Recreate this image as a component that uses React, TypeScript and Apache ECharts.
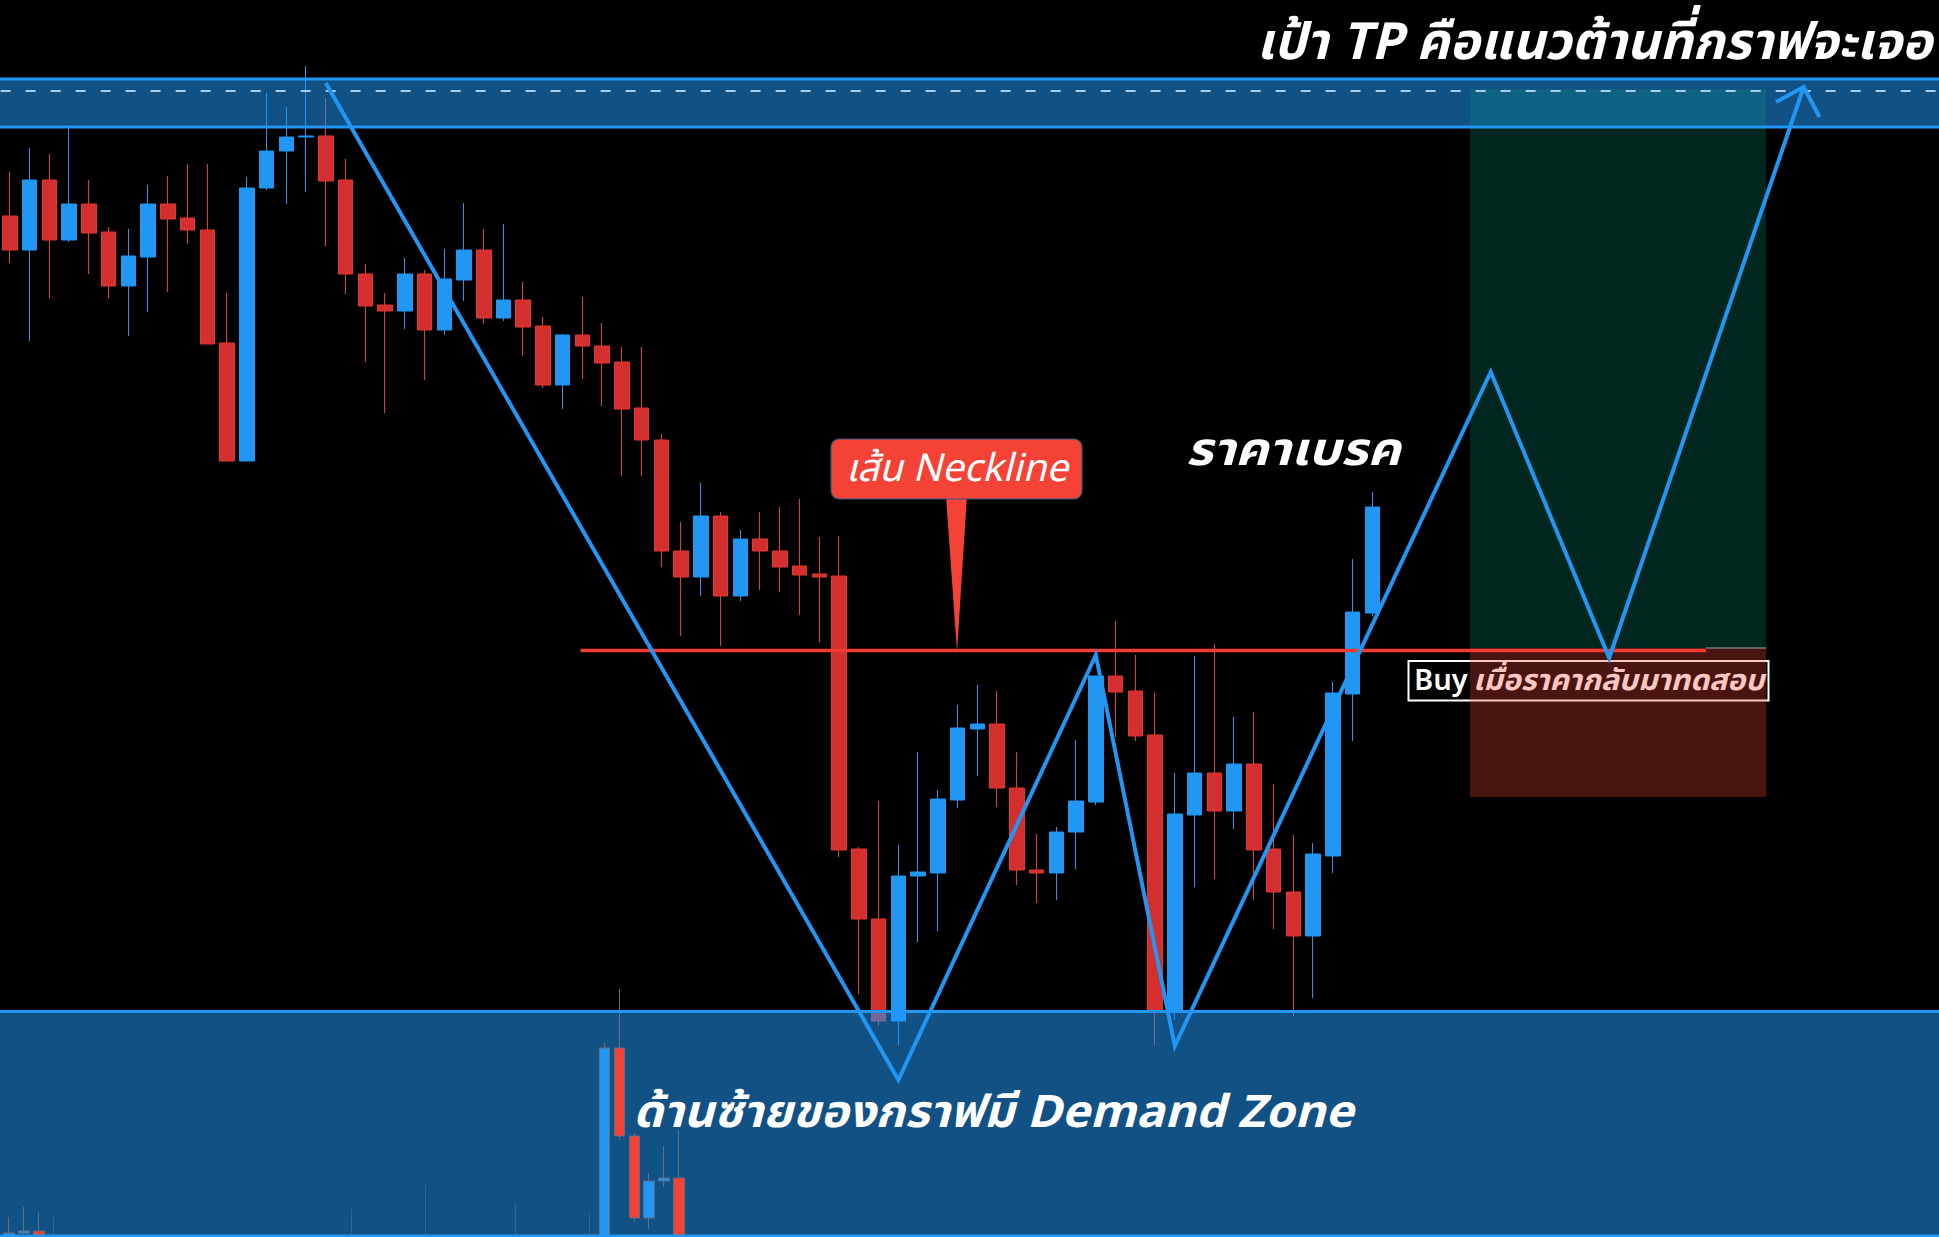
import React, { useEffect, useRef } from "react";
import * as echarts from "echarts";

const CHART_W = 1939;
const CHART_H = 1237;
const FONT = "'Noto Sans Thai', 'Noto Sans Thai UI', Tahoma, Loma, Garuda, 'Noto Sans', 'DejaVu Sans', sans-serif";

// ---------- main chart candles (price units, one entry per bar) ----------
const barCount = 98; // visible bar slots: 70 traded bars + empty future space
const mainOpen = [
  1021, 987, 1057, 997, 1033, 1005, 951, 980, 1033, 1019,
  1007, 894, 776, 1049, 1086, 1100, 1101, 1057, 963, 932,
  926, 963, 907, 957, 987, 919, 937, 911, 852, 902,
  891, 875, 829, 797, 686, 660, 721, 641, 698, 686,
  671, 663, 661, 388, 318, 216, 361, 364, 437, 508,
  513, 449, 367, 364, 405, 435, 561, 546, 502, 225,
  422, 464, 426, 473, 388, 345, 301, 381, 543, 624,
];
const mainClose = [
  987, 1057, 997, 1033, 1004, 951, 981, 1033, 1018, 1007,
  893, 776, 1049, 1086, 1100, 1101, 1056, 963, 931, 926,
  963, 907, 958, 987, 919, 937, 910, 852, 902, 891,
  874, 828, 797, 686, 660, 721, 641, 698, 686, 670,
  662, 660, 387, 318, 216, 361, 365, 438, 509, 513,
  449, 367, 364, 405, 436, 561, 545, 501, 227, 423,
  464, 426, 473, 387, 345, 301, 383, 544, 625, 730,
];
const mainLow = [
  974, 896, 939, 995, 963, 939, 901, 925, 945, 993,
  893, 776, 776, 1047, 1033, 1045, 991, 943, 875, 824,
  908, 857, 902, 936, 913, 916, 881, 849, 828, 858,
  831, 761, 761, 670, 601, 641, 591, 636, 647, 645,
  622, 595, 380, 243, 211, 192, 295, 306, 429, 461,
  430, 352, 334, 337, 368, 432, 500, 496, 192, 217,
  350, 358, 408, 337, 308, 221, 239, 364, 496, 621,
];
const mainHigh = [
  1065, 1089, 1083, 1112, 1057, 1010, 1008, 1052, 1061, 1073,
  1073, 944, 1060, 1144, 1130, 1171, 1139, 1078, 973, 944,
  979, 967, 988, 1034, 1008, 1013, 955, 920, 903, 940,
  914, 890, 890, 803, 715, 754, 725, 707, 725, 730,
  738, 700, 701, 390, 436, 392, 485, 447, 532, 552,
  546, 485, 403, 410, 497, 561, 616, 582, 544, 464,
  581, 593, 520, 525, 453, 402, 394, 555, 678, 745,
];

// ---------- older chart candles showing through the demand zone ----------
const lowerBarCount = 46;
const lowerIndex = [0, 1, 2, 3, 23, 28, 34, 39, 40, 41, 42, 43, 44, 45];
const lowerOpen = [-20, 4, 6, -20, -20, -20, -20, -20, -30, 189, 101, 19, 56, 59];
const lowerClose = [4, 6, -15, -40, -40, -40, -40, -40, 189, 101, 19, 56, 59, -20];
const lowerLow = [-30, -20, -25, -60, -60, -60, -60, -60, -40, 97, 15, 8, 50, -30];
const lowerHigh = [20, 30, 25, 20, 28, 52, 34, 23, 194, 248, 104, 64, 91, 107];
const lowerFaint = [3, 23, 28, 34, 39];

// ---------- zones and levels (price units, bar-index spans) ----------
const tpZone = [1110, 1158];
const tpLevel = 1146;
const demandZone = [-10, 225.5];
const necklinePrice = 586.5;
const necklineSpan = [28.9, 85.9];
const positionSpan = [73.95, 88.95];
const positionLevels = [1148, 589, 440]; // target, entry, stop

// ---------- drawn W-pattern path (bar index, price) ----------
const patternX = [16, 45, 55, 59, 75, 81, 90.85];
const patternY = [1154, 157, 582, 191, 865, 579, 1150];
const arrowX = [89.45, 90.85, 91.65];
const arrowY = [1135, 1150, 1120];

const BLUE = "#2196f3";
const RED = "#d32f2f";

const MAIN_GRID_W = 1935;
const LOWER_GRID_LEFT = 1.66;
const LOWER_GRID_W = 684.8;

function rectSeries(data: number[][], style: any, z: number) {
  return {
    type: "custom",
    xAxisIndex: 0,
    yAxisIndex: 0,
    z,
    silent: true,
    data,
    renderItem: (_p: any, api: any) => {
      const a = api.coord([api.value(0), api.value(3)]);
      const b = api.coord([api.value(2), api.value(1)]);
      return {
        type: "rect",
        shape: { x: a[0], y: a[1], width: b[0] - a[0], height: b[1] - a[1] },
        style,
      };
    },
  };
}

function lineSeries(points: number[][], lineStyle: any, z: number) {
  return {
    type: "line",
    xAxisIndex: 0,
    yAxisIndex: 0,
    z,
    silent: true,
    symbol: "none",
    animation: false,
    data: points,
    lineStyle,
  };
}

function txt(text: string, x: number, y: number, size: number, extra: any = {}, scaleX = 1) {
  return {
    type: "text",
    x,
    y,
    scaleX,
    z: 20,
    silent: true,
    style: {
      text,
      fill: "#ffffff",
      fontSize: size,
      fontWeight: "bold",
      fontStyle: "italic",
      fontFamily: FONT,
      align: "left",
      verticalAlign: "middle",
      ...extra,
    },
  };
}

export default function App() {
  const ref = useRef<HTMLDivElement>(null);

  useEffect(() => {
    if (!ref.current) return;
    const chart = echarts.init(ref.current, null, { renderer: "svg" });

    const band = MAIN_GRID_W / barCount;
    const overlayMax = -0.5 + CHART_W / band;
    const lastX = overlayMax + 2;

    const mainData = mainOpen.map((o, i) => [o, mainClose[i], mainLow[i], mainHigh[i]]);
    const lowerData = lowerIndex.map((k, i) => {
      const item: any = { value: [k, lowerOpen[i], lowerClose[i], lowerLow[i], lowerHigh[i]] };
      if (lowerFaint.includes(k)) item.itemStyle = { opacity: 0.55 };
      return item;
    });

    const cats = Array.from({ length: barCount }, (_, i) => String(i + 1));
    const lowerCats = Array.from({ length: lowerBarCount }, (_, i) => String(i + 1));

    const hiddenY = { type: "value", min: 0, max: CHART_H, show: false };

    chart.setOption({
      animation: false,
      backgroundColor: "#000000",
      grid: [
        { left: 0, top: 0, width: CHART_W, height: CHART_H },
        { left: 0, top: 0, width: MAIN_GRID_W, height: CHART_H },
        { left: LOWER_GRID_LEFT, top: 0, width: LOWER_GRID_W, height: CHART_H },
      ],
      xAxis: [
        { type: "value", gridIndex: 0, min: -0.5, max: overlayMax, show: false },
        { type: "category", gridIndex: 1, data: cats, boundaryGap: true, show: false },
        { type: "category", gridIndex: 2, data: lowerCats, boundaryGap: true, show: false },
      ],
      yAxis: [
        { ...hiddenY, gridIndex: 0 },
        { ...hiddenY, gridIndex: 1 },
        { ...hiddenY, gridIndex: 2 },
      ],
      series: [
        {
          type: "candlestick",
          xAxisIndex: 1,
          yAxisIndex: 1,
          z: 1,
          silent: true,
          barWidth: 15,
          data: mainData,
          itemStyle: {
            color: BLUE,
            color0: RED,
            borderColor: BLUE,
            borderColor0: "#e53935",
            borderWidth: 1,
          },
        },
        // zones (semi-transparent, over the main candles)
        rectSeries(
          [
            [-3, tpZone[0], lastX, tpZone[1]],
            [-3, demandZone[0], lastX, demandZone[1]],
          ],
          { fill: "rgba(33,150,243,0.54)" },
          2
        ),
        {
          type: "candlestick",
          xAxisIndex: 2,
          yAxisIndex: 2,
          z: 3,
          silent: true,
          barWidth: 11,
          encode: { x: 0, y: [1, 2, 3, 4] },
          data: lowerData,
          itemStyle: {
            color: BLUE,
            color0: "#f44336",
            borderColor: "#5f6f80",
            borderColor0: "#5f6f80",
            borderWidth: 1,
          },
        },
        // position tool boxes
        rectSeries(
          [[positionSpan[0], positionLevels[1], positionSpan[1], positionLevels[0]]],
          { fill: "rgba(8,153,129,0.25)" },
          5
        ),
        rectSeries(
          [[positionSpan[0], positionLevels[2], positionSpan[1], positionLevels[1]]],
          { fill: "rgba(244,67,54,0.3)" },
          5
        ),
        // zone borders
        lineSeries([[-3, tpZone[1]], [lastX, tpZone[1]]], { color: BLUE, width: 3 }, 6),
        lineSeries([[-3, tpZone[0]], [lastX, tpZone[0]]], { color: BLUE, width: 3 }, 6),
        lineSeries([[-3, demandZone[1]], [lastX, demandZone[1]]], { color: BLUE, width: 3 }, 6),
        lineSeries([[-3, 1], [lastX, 1]], { color: BLUE, width: 3 }, 6),
        lineSeries(
          [[-3, tpLevel], [lastX, tpLevel]],
          { color: "rgba(185,220,250,0.9)", width: 2, type: [10, 15] },
          6
        ),
        lineSeries(
          [[necklineSpan[1], positionLevels[1]], [positionSpan[1], positionLevels[1]]],
          { color: "#7a7a7a", width: 1.5 },
          6
        ),
        lineSeries(
          [[necklineSpan[0], necklinePrice], [necklineSpan[1], necklinePrice]],
          { color: "#f23c32", width: 3.5 },
          7
        ),
        lineSeries(
          patternX.map((x, i) => [x, patternY[i]]),
          { color: BLUE, width: 4, join: "miter", miterLimit: 20 },
          8
        ),
        lineSeries(
          arrowX.map((x, i) => [x, arrowY[i]]),
          { color: BLUE, width: 4, join: "miter", miterLimit: 20 },
          8
        ),
      ],
      graphic: [
        // Buy label (beneath the stop box so it gets tinted)
        {
          type: "rect",
          z: 4,
          silent: true,
          shape: { x: 1408.5, y: 661, width: 360, height: 39.5 },
          style: { fill: "rgba(0,0,0,0)", stroke: "#ffffff", lineWidth: 2 },
        },
        {
          ...txt("Buy", 1414, 681, 29, { fontWeight: 600, fontStyle: "normal" }),
          z: 4,
        },
        {
          ...txt("เมื่อราคากลับมาทดสอบ", 1473, 681, 29, {}, 1.04),
          z: 4,
        },
        // neckline callout
        {
          type: "polygon",
          z: 19,
          silent: true,
          shape: { points: [[946, 496], [967, 496], [957, 652]] },
          style: { fill: "#f44336" },
        },
        {
          type: "rect",
          z: 19,
          silent: true,
          shape: { x: 831, y: 439, width: 251, height: 60, r: 8 },
          style: { fill: "#f44336", stroke: "#2b5a86", lineWidth: 1.2 },
        },
        txt("เส้น Neckline", 957, 469, 38.5, { align: "center", fontWeight: "normal" }),
        txt("เป้า TP คือแนวต้านที่กราฟจะเจอ", 1932, 43, 51, { align: "right" }),
        txt("ราคาเบรค", 1186, 451, 46, {}, 1.12),
        txt("ด้านซ้ายของกราฟมี Demand Zone", 633, 1113, 45, {}, 1.05),
      ],
    });

    return () => chart.dispose();
  }, []);

  return (
    <div
      ref={ref}
      style={{
        position: "fixed",
        left: 0,
        top: 0,
        width: CHART_W,
        height: CHART_H,
        background: "#000",
      }}
    />
  );
}
